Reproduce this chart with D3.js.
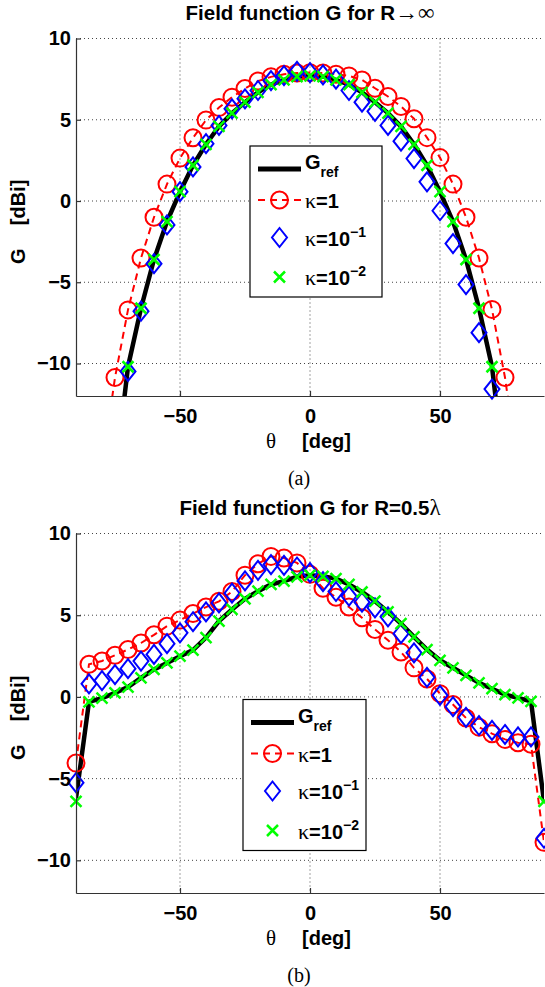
<!DOCTYPE html>
<html>
<head>
<meta charset="utf-8">
<script src="https://cdnjs.cloudflare.com/ajax/libs/d3/7.8.5/d3.min.js"></script>
<style>
body { margin: 0; background: #fff; }
svg text { font-family: "Liberation Sans", Arial, Helvetica, sans-serif; font-weight: bold; fill: #000; }
svg .sym { font-family: "Liberation Serif", "Times New Roman", serif; font-weight: normal; }
</style>
</head>
<body>
<div id="chart"></div>
<script>
var theta = [-90, -85, -80, -75, -70, -65, -60, -55, -50, -45, -40, -35, -30, -25, -20, -15, -10, -5,
  0, 5, 10, 15, 20, 25, 30, 35, 40, 45, 50, 55, 60, 65, 70, 75, 80, 85, 90];
var thetaTicks = [-50, 0, 50];
var gTicks = [-10, -5, 0, 5, 10];

// (a) R -> infinity
var topRef = [null, null, null, -17, -10.2, -6.6, -3.6, -1.27, 0.57, 2.2, 3.49, 4.59, 5.41, 6.08, 6.69, 7.16, 7.45, 7.65,
  7.7, 7.65, 7.45, 7.16, 6.69, 6.08, 5.41, 4.59, 3.49, 2.2, 0.57, -1.27, -3.6, -6.6, -10.2, -17, null, null, null];
var topK1 = [null, null, -16.5, -10.86, -6.7, -3.51, -1.0, 1.04, 2.64, 3.89, 4.98, 5.75, 6.39, 6.92, 7.38, 7.64, 7.8, 7.88,
  7.9, 7.88, 7.8, 7.7, 7.45, 6.94, 6.43, 5.82, 5.06, 3.9, 2.67, 1.04, -1.0, -3.51, -6.67, -10.86, -16.5, null, null];
var topK01 = [null, null, null, null, -10.49, -6.78, -3.86, -1.47, 0.57, 2.1, 3.53, 4.65, 5.67, 6.29, 6.8, 7.41, 7.72, 7.98,
  7.9, 7.76, 7.5, 6.8, 6.08, 5.52, 4.65, 3.68, 2.61, 1.18, -0.6, -2.62, -5.14, -8.1, -11.57, null, null, null, null];
var topK001 = [null, null, null, null, -10.2, -6.6, -3.6, -1.27, 0.57, 2.2, 3.49, 4.59, 5.41, 6.08, 6.69, 7.16, 7.45, 7.65,
  7.7, 7.65, 7.45, 7.16, 6.69, 6.08, 5.41, 4.59, 3.49, 2.2, 0.57, -1.27, -3.6, -6.6, -10.2, null, null, null, null];

// (b) R = 0.5 lambda
var botRef = [-6.2, -0.3, -0.08, 0.25, 0.6, 1.16, 1.68, 2.08, 2.49, 2.87, 3.63, 4.64, 5.35, 6.0, 6.47, 6.88, 7.09, 7.35,
  7.45, 7.38, 7.24, 6.88, 6.42, 5.86, 5.2, 4.48, 3.67, 2.9, 2.24, 1.78, 1.32, 0.86, 0.5, 0.14, -0.06, -0.27, -6.4];
var botK1 = [-4.05, 2.0, 2.2, 2.55, 2.9, 3.3, 3.8, 4.33, 4.7, 5.1, 5.5, 5.85, 6.45, 7.45, 8.15, 8.6, 8.5, 8.2,
  7.5, 6.65, 6.1, 5.5, 4.84, 4.13, 3.47, 2.75, 1.78, 1.1, 0.2, -0.47, -1.29, -1.85, -2.25, -2.6, -2.8, -2.9, -8.9];
var botK01 = [-5.25, 0.8, 1.0, 1.37, 1.73, 2.19, 2.6, 3.26, 3.92, 4.6, 5.2, 5.75, 6.35, 7.1, 7.75, 8.1, 8.05, 7.95,
  7.6, 7.05, 6.45, 6.17, 5.8, 5.45, 4.9, 3.87, 2.7, 1.2, 0.1, -0.6, -1.25, -1.75, -2.05, -2.3, -2.45, -2.45, -8.65];
var botK001 = [-6.4, -0.3, -0.08, 0.25, 0.6, 1.16, 1.68, 2.08, 2.49, 2.87, 3.63, 4.64, 5.35, 6.0, 6.47, 6.88, 7.09, 7.35,
  7.45, 7.38, 7.24, 6.88, 6.42, 5.86, 5.2, 4.48, 3.67, 2.9, 2.24, 1.78, 1.32, 0.86, 0.5, 0.14, -0.06, -0.27, -6.4];

var svg = d3.select("#chart")
  .append("svg")
  .attr("width", 545)
  .attr("height", 987);

var x = d3.scaleLinear().domain([-90, 90]).range([76, 544]);

function pairs(values) {
  return theta.map((t, i) => [t, values[i]]);
}

function drawCircle(g, cx, cy) {
  g.append("circle").attr("cx", cx).attr("cy", cy).attr("r", 8.5)
    .attr("fill", "none").attr("stroke", "#ff0000").attr("stroke-width", 2);
}
function drawDiamond(g, cx, cy) {
  g.append("path")
    .attr("d", `M${cx},${cy - 9.5}L${cx + 7.5},${cy}L${cx},${cy + 9.5}L${cx - 7.5},${cy}Z`)
    .attr("fill", "none").attr("stroke", "#0000ff").attr("stroke-width", 2);
}
function drawCross(g, cx, cy) {
  var s = 5.5;
  g.append("path")
    .attr("d", `M${cx - s},${cy - s}L${cx + s},${cy + s}M${cx - s},${cy + s}L${cx + s},${cy - s}`)
    .attr("fill", "none").attr("stroke", "#00ff00").attr("stroke-width", 2.5);
}

function drawPanel(p) {
  var y = d3.scaleLinear().domain([-12, 10]).range([p.bottom, p.top]);
  var g = svg.append("g");

  svg.append("clipPath").attr("id", "clip" + p.name)
    .append("rect")
    .attr("x", 76).attr("y", p.top)
    .attr("width", 468).attr("height", p.bottom - p.top);

  // dotted grid
  g.selectAll(".vgrid").data(thetaTicks).enter().append("line")
    .attr("x1", d => x(d)).attr("x2", d => x(d))
    .attr("y1", p.top).attr("y2", p.bottom)
    .attr("stroke", "#444").attr("stroke-width", 1).attr("stroke-dasharray", "1,3");
  g.selectAll(".hgrid").data(gTicks).enter().append("line")
    .attr("x1", 76).attr("x2", 544)
    .attr("y1", d => y(d)).attr("y2", d => y(d))
    .attr("stroke", "#444").attr("stroke-width", 1).attr("stroke-dasharray", "1,3");

  var line = d3.line()
    .defined(d => d[1] != null)
    .x(d => x(d[0]))
    .y(d => y(d[1]));

  var lines = g.append("g").attr("clip-path", `url(#clip${p.name})`);
  lines.append("path").datum(pairs(p.ref))
    .attr("d", line).attr("fill", "none")
    .attr("stroke", "#000").attr("stroke-width", 4.5);
  lines.append("path").datum(pairs(p.k1))
    .attr("d", line).attr("fill", "none")
    .attr("stroke", "#ff0000").attr("stroke-width", 2).attr("stroke-dasharray", "7,5");

  var inside = d => d[1] != null && d[1] >= -12 && d[1] <= 10;
  var marks = g.append("g");
  pairs(p.k1).filter(inside).forEach(d => drawCircle(marks, x(d[0]), y(d[1])));
  pairs(p.k01).filter(inside).forEach(d => drawDiamond(marks, x(d[0]), y(d[1])));
  pairs(p.k001).filter(inside).forEach(d => drawCross(marks, x(d[0]), y(d[1])));

  // axes
  var yAxis = g.append("g")
    .attr("transform", "translate(76,0)")
    .call(d3.axisLeft(y).tickValues(gTicks).tickSize(-5).tickSizeOuter(0).tickPadding(5));
  var xAxis = g.append("g")
    .attr("transform", `translate(0,${p.bottom})`)
    .call(d3.axisBottom(x).tickValues(thetaTicks).tickSize(-5).tickSizeOuter(0).tickPadding(13));
  [yAxis, xAxis].forEach(a => {
    a.attr("font-family", null).attr("font-size", null);
    a.selectAll("path, line").attr("stroke", "#333").attr("stroke-width", 1.2);
    a.selectAll("text").style("font-size", "20px");
  });

  // title
  var title = g.append("text")
    .attr("x", 310).attr("y", p.top - 18.5)
    .attr("text-anchor", "middle").style("font-size", "20.5px");
  title.append("tspan").text(p.title);
  title.append("tspan").attr("class", "sym").style("font-size", "23px").text(p.titleSym);

  // axis labels
  var mid = (p.top + p.bottom) / 2;
  g.append("text").attr("class", "sym")
    .attr("x", 271).attr("y", p.bottom + 52)
    .attr("text-anchor", "middle").style("font-size", "21px").text("θ");
  g.append("text")
    .attr("x", 302).attr("y", p.bottom + 52)
    .style("font-size", "20px").text("[deg]");
  g.append("text")
    .attr("transform", `translate(25,${mid + 39}) rotate(-90)`)
    .attr("text-anchor", "middle").style("font-size", "20px").text("G");
  g.append("text")
    .attr("transform", `translate(25,${mid + 8}) rotate(-90)`)
    .style("font-size", "20px").text("[dBi]");

  // sub-figure caption
  g.append("text").attr("class", "sym")
    .attr("x", 299).attr("y", p.bottom + 89)
    .attr("text-anchor", "middle").style("font-size", "20px").text(p.caption);

  // legend
  var L = p.legend;
  var lg = g.append("g");
  lg.append("rect")
    .attr("x", L.x).attr("y", L.y).attr("width", L.w).attr("height", 151)
    .attr("fill", "#fff").attr("stroke", "#000").attr("stroke-width", 1.2);
  var x0 = L.x + 8, x1 = L.x + 51, xm = (x0 + x1) / 2, xt = L.x + 55;
  var rows = [L.y + 23, L.y + 54, L.y + 91.5, L.y + 131];

  lg.append("line").attr("x1", x0).attr("x2", x1).attr("y1", rows[0]).attr("y2", rows[0])
    .attr("stroke", "#000").attr("stroke-width", 5);
  var t0 = lg.append("text").attr("x", xt).attr("y", rows[0]).style("font-size", "20px");
  t0.append("tspan").text("G");
  t0.append("tspan").attr("dy", 8).style("font-size", "14px").text("ref");

  lg.append("line").attr("x1", x0).attr("x2", x1).attr("y1", rows[1]).attr("y2", rows[1])
    .attr("stroke", "#ff0000").attr("stroke-width", 2).attr("stroke-dasharray", "7,5");
  drawCircle(lg, xm, rows[1]);
  drawDiamond(lg, xm, rows[2]);
  drawCross(lg, xm, rows[3]);

  var kLabels = [["1", ""], ["10", "−1"], ["10", "−2"]];
  kLabels.forEach((k, i) => {
    var t = lg.append("text").attr("x", xt).attr("y", rows[i + 1] + 8).style("font-size", "20px");
    t.append("tspan").attr("class", "sym").style("font-size", "22px").text("κ");
    t.append("tspan").text("=" + k[0]);
    if (k[1]) t.append("tspan").attr("dy", -9).style("font-size", "14px").text(k[1]);
  });
}

drawPanel({
  name: "a", top: 38.5, bottom: 396,
  ref: topRef, k1: topK1, k01: topK01, k001: topK001,
  title: "Field function G for R", titleSym: "→∞", caption: "(a)",
  legend: { x: 250, y: 146, w: 132 }
});

drawPanel({
  name: "b", top: 533.5, bottom: 893,
  ref: botRef, k1: botK1, k01: botK01, k001: botK001,
  title: "Field function G for R=0.5", titleSym: "λ", caption: "(b)",
  legend: { x: 243, y: 699.5, w: 123 }
});
</script>
</body>
</html>
